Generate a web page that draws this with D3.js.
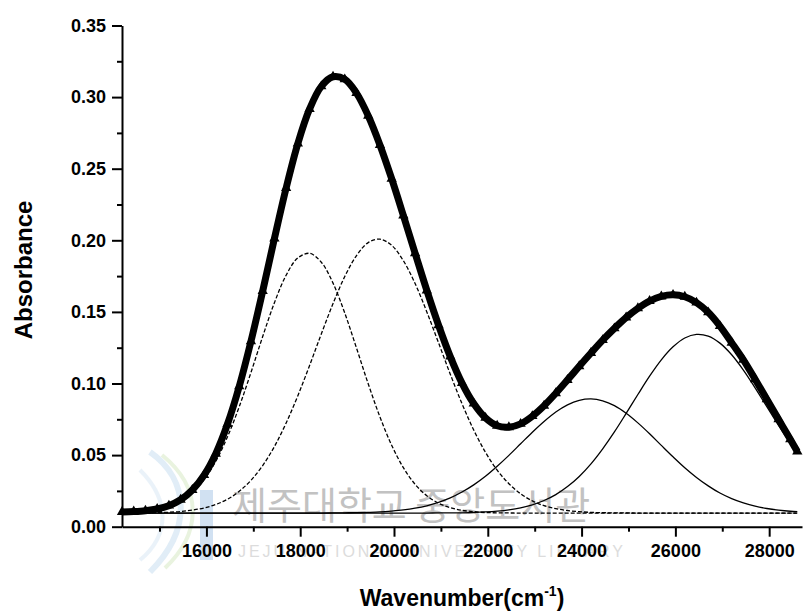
<!DOCTYPE html>
<html>
<head>
<meta charset="utf-8">
<title>Absorbance - Gaussian bands</title>
<script src="https://cdn.jsdelivr.net/npm/d3@7"></script>
<style>
	html, body {
		margin: 0;
		padding: 0;
		background: #fff;
	}
	svg {
		display: block;
		font-family: "Liberation Sans", Arial, sans-serif;
	}
	.axis text {
		font-size: 18px;
		font-weight: bold;
		fill: #000;
	}
	.axis path, .axis line {
		stroke: #000;
		stroke-width: 2px;
	}
	.band {
		fill: none;
		stroke: #000;
		stroke-width: 1.3px;
	}
	.title {
		font-weight: bold;
		fill: #000;
	}
</style>
</head>
<body>
<div id="graph"></div>
<script>
	// wavenumber grid (cm-1)
	var wavenumber = [14200, 14450, 14700, 14950, 15200, 15450, 15700, 15950, 16200, 16450,
		16700, 16950, 17200, 17450, 17700, 17950, 18200, 18450, 18700, 18950,
		19200, 19450, 19700, 19950, 20200, 20450, 20700, 20950, 21200, 21450,
		21700, 21950, 22200, 22450, 22700, 22950, 23200, 23450, 23700, 23950,
		24200, 24450, 24700, 24950, 25200, 25450, 25700, 25950, 26200, 26450,
		26700, 26950, 27200, 27450, 27700, 27950, 28200, 28450, 28600];

	// measured spectrum (triangles)
	var measured = [0.0103, 0.0106, 0.0112, 0.0124, 0.0147, 0.0188, 0.0256, 0.0360, 0.0510, 0.0717,
		0.0980, 0.1295, 0.1645, 0.2012, 0.2365, 0.2676, 0.2917, 0.3075, 0.3142, 0.3124,
		0.3028, 0.2870, 0.2666, 0.2430, 0.2173, 0.1910, 0.1650, 0.1407, 0.1188, 0.1003,
		0.0860, 0.0760, 0.0705, 0.0695, 0.0718, 0.0772, 0.0845, 0.0932, 0.1025, 0.1120,
		0.1213, 0.1303, 0.1385, 0.1461, 0.1525, 0.1576, 0.1608, 0.1619, 0.1606, 0.1565,
		0.1497, 0.1401, 0.1285, 0.1165, 0.1030, 0.0890, 0.0750, 0.0610, 0.0525];

	// fitted bands
	var band1 = [0.0098, 0.0101, 0.0107, 0.0119, 0.0141, 0.0179, 0.0239, 0.0329, 0.0457, 0.0628,
		0.0838, 0.1077, 0.1328, 0.1564, 0.1756, 0.1877, 0.1909, 0.1847, 0.1701, 0.1492,
		0.1248, 0.0998, 0.0767, 0.0569, 0.0412, 0.0296, 0.0216, 0.0164, 0.0133, 0.0114,
		0.0105, 0.0099, 0.0097, 0.0096, 0.0095, 0.0095, 0.0095, 0.0095, 0.0095, 0.0095,
		0.0095, 0.0095, 0.0095, 0.0095, 0.0095, 0.0095, 0.0095, 0.0095, 0.0095, 0.0095,
		0.0095, 0.0095, 0.0095, 0.0095, 0.0095, 0.0095, 0.0095, 0.0095, 0.0095];
	var band2 = [0.0095, 0.0096, 0.0097, 0.0098, 0.0101, 0.0106, 0.0116, 0.0131, 0.0155, 0.0192,
		0.0247, 0.0324, 0.0427, 0.0560, 0.0724, 0.0915, 0.1126, 0.1346, 0.1558, 0.1747,
		0.1893, 0.1984, 0.2008, 0.1965, 0.1857, 0.1698, 0.1500, 0.1284, 0.1065, 0.0859,
		0.0675, 0.0520, 0.0395, 0.0300, 0.0230, 0.0180, 0.0147, 0.0126, 0.0113, 0.0105,
		0.0100, 0.0098, 0.0096, 0.0096, 0.0095, 0.0095, 0.0095, 0.0095, 0.0095, 0.0095,
		0.0095, 0.0095, 0.0095, 0.0095, 0.0095, 0.0095, 0.0095, 0.0095, 0.0095];
	var band3 = [0.0095, 0.0095, 0.0095, 0.0095, 0.0095, 0.0095, 0.0095, 0.0095, 0.0095, 0.0095,
		0.0095, 0.0095, 0.0095, 0.0095, 0.0095, 0.0095, 0.0095, 0.0095, 0.0096, 0.0097,
		0.0098, 0.0100, 0.0103, 0.0109, 0.0117, 0.0129, 0.0146, 0.0170, 0.0201, 0.0242,
		0.0292, 0.0352, 0.0422, 0.0498, 0.0579, 0.0660, 0.0735, 0.0801, 0.0851, 0.0882,
		0.0892, 0.0879, 0.0845, 0.0792, 0.0725, 0.0649, 0.0568, 0.0488, 0.0412, 0.0344,
		0.0285, 0.0235, 0.0196, 0.0166, 0.0143, 0.0127, 0.0116, 0.0108, 0.0105];
	var band4 = [0.0095, 0.0095, 0.0095, 0.0095, 0.0095, 0.0095, 0.0095, 0.0095, 0.0095, 0.0095,
		0.0095, 0.0095, 0.0095, 0.0095, 0.0095, 0.0095, 0.0095, 0.0095, 0.0095, 0.0095,
		0.0095, 0.0095, 0.0095, 0.0095, 0.0095, 0.0095, 0.0095, 0.0096, 0.0096, 0.0097,
		0.0099, 0.0103, 0.0109, 0.0118, 0.0132, 0.0153, 0.0183, 0.0224, 0.0280, 0.0351,
		0.0439, 0.0544, 0.0662, 0.0791, 0.0923, 0.1051, 0.1165, 0.1256, 0.1318, 0.1343,
		0.1331, 0.1282, 0.1201, 0.1094, 0.0970, 0.0839, 0.0708, 0.0585, 0.0517];

	var xTicks = [16000, 18000, 20000, 22000, 24000, 26000, 28000];
	var xMinor = [15000, 17000, 19000, 21000, 23000, 25000, 27000];
	var yTicks = [0, 0.05, 0.10, 0.15, 0.20, 0.25, 0.30, 0.35];
	var yMinor = [0.025, 0.075, 0.125, 0.175, 0.225, 0.275, 0.325];

	var W = 803, H = 612;
	var x = d3.scaleLinear().domain([14200, 28700]).range([122, 802]);
	var y = d3.scaleLinear().domain([0, 0.35]).range([526.7, 25.5]);

	var svg = d3.select('#graph').append('svg')
		.attr('width', W)
		.attr('height', H);

	// library watermark (faint, behind the plot)
	var wm = svg.append('g').attr('class', 'watermark');
	wm.append('path')
		.attr('d', 'M150,452 C190,480 192,530 150,572')
		.attr('fill', 'none').attr('stroke', '#b5d3ec').attr('stroke-width', 6).attr('opacity', 0.4);
	wm.append('path')
		.attr('d', 'M162,455 C205,490 200,535 165,568')
		.attr('fill', 'none').attr('stroke', '#c8e0ae').attr('stroke-width', 4).attr('opacity', 0.4);
	wm.append('path')
		.attr('d', 'M140,470 C170,500 170,535 140,560')
		.attr('fill', 'none').attr('stroke', '#d6e6f4').attr('stroke-width', 4).attr('opacity', 0.5);
	wm.append('rect')
		.attr('x', 200).attr('y', 490).attr('width', 13).attr('height', 70)
		.attr('fill', '#b3cdea').attr('opacity', 0.6);
	wm.append('text')
		.attr('x', 232).attr('y', 519)
		.attr('font-family', '"Noto Sans CJK KR", sans-serif')
		.attr('font-size', 38)
		.attr('fill', '#c2c2c2')
		.text('제주대학교 중앙도서관');
	wm.append('text')
		.attr('x', 238).attr('y', 557)
		.attr('font-size', 16)
		.attr('fill', '#dcdcdc')
		.attr('textLength', 385)
		.attr('lengthAdjust', 'spacing')
		.text('JEJU NATIONAL UNIVERSITY LIBRARY');

	var line = d3.line()
		.x(function(d, i) { return x(wavenumber[i]); })
		.y(function(d) { return y(d); })
		.curve(d3.curveCatmullRom.alpha(0.5));

	// fitted components
	svg.append('path').datum(band1).attr('class', 'band').attr('stroke-dasharray', '4,2').attr('d', line);
	svg.append('path').datum(band2).attr('class', 'band').attr('stroke-dasharray', '4,2').attr('d', line);
	svg.append('path').datum(band3).attr('class', 'band').attr('d', line);
	svg.append('path').datum(band4).attr('class', 'band').attr('d', line);

	// measured data: thick band of triangles
	svg.append('path').datum(measured)
		.attr('fill', 'none')
		.attr('stroke', '#000')
		.attr('stroke-width', 7)
		.attr('d', line);
	svg.selectAll('path.pt')
		.data(measured)
		.enter()
		.append('path')
			.attr('class', 'pt')
			.attr('d', d3.symbol(d3.symbolTriangle).size(46))
			.attr('transform', function(d, i) { return 'translate(' + x(wavenumber[i]) + ',' + y(d) + ')'; })
			.attr('fill', '#000');

	// axes
	svg.append('g')
		.attr('class', 'axis')
		.attr('transform', 'translate(0,' + y(0) + ')')
		.call(d3.axisBottom(x).tickValues(xMinor).tickSize(5).tickSizeOuter(0).tickFormat(''))
		.select('.domain').remove();
	svg.append('g')
		.attr('class', 'axis')
		.attr('transform', 'translate(0,' + y(0) + ')')
		.call(d3.axisBottom(x).tickValues(xTicks).tickSize(10).tickSizeOuter(0).tickPadding(8).tickFormat(d3.format('d')));

	svg.append('g')
		.attr('class', 'axis')
		.attr('transform', 'translate(' + x(14200) + ',0)')
		.call(d3.axisLeft(y).tickValues(yMinor).tickSize(5).tickSizeOuter(0).tickFormat(''))
		.select('.domain').remove();
	svg.append('g')
		.attr('class', 'axis')
		.attr('transform', 'translate(' + x(14200) + ',0)')
		.call(d3.axisLeft(y).tickValues(yTicks).tickSize(10).tickSizeOuter(0).tickPadding(6).tickFormat(d3.format('.2f')));

	// titles
	svg.append('text')
		.attr('class', 'title')
		.attr('transform', 'translate(32,270) rotate(-90)')
		.attr('text-anchor', 'middle')
		.attr('font-size', 24)
		.text('Absorbance');

	var xt = svg.append('text')
		.attr('class', 'title')
		.attr('x', 462)
		.attr('y', 606)
		.attr('text-anchor', 'middle')
		.attr('font-size', 23);
	xt.append('tspan').text('Wavenumber(cm');
	xt.append('tspan').attr('font-size', 14).attr('dy', -10).text('-1');
	xt.append('tspan').attr('dy', 10).text(')');
</script>
</body>
</html>
